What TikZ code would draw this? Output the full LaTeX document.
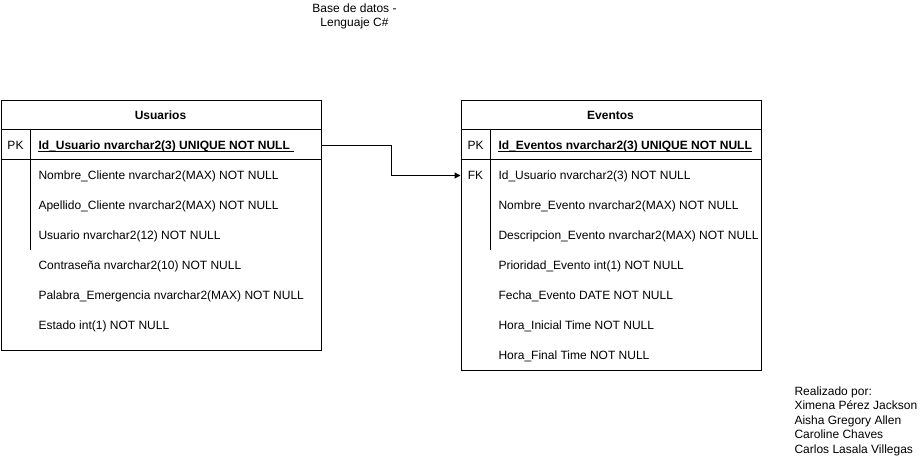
\documentclass[tikz,border=0pt]{standalone}
\usepackage{fontspec}
\setmainfont{Liberation Sans}
\usetikzlibrary{arrows.meta}
\begin{document}
\begin{tikzpicture}[x=1pt,y=-1pt,line width=1pt,
  font=\fontsize{12}{14}\selectfont,
  tablebox/.style={draw,rectangle,inner sep=0pt,anchor=north west,minimum width=#1},
  rowbox/.style={rectangle,inner sep=0pt,anchor=north west,minimum width=#1,minimum height=30pt},
  hdr/.style={inner sep=0pt,anchor=base,font=\fontsize{12}{14}\selectfont\bfseries},
  keylbl/.style={inner sep=0pt,anchor=base},
  fld/.style={inner sep=0pt,anchor=base west},
  pkfld/.style={inner sep=0pt,anchor=base west,font=\fontsize{12}{14}\selectfont\bfseries},
  note/.style={inner sep=0pt,anchor=base,align=center,font=\fontsize{12}{14}\selectfont},
  fk/.style={-{Triangle[length=6pt,width=6pt]}}]
\useasboundingbox (0,0) rectangle (921,470);

% title
\node[note] (title) at (354.5,26.3) {Base de datos -\\Lenguaje C\#};

% Usuarios table
\node[tablebox=320pt,minimum height=250pt] (usuarios) at (0.5,100) {};
\draw (0.5,130) -- (320.5,130);
\draw (0.5,160) -- (320.5,160);
\draw (30.5,130) -- (30.5,250);
\node[rowbox=320pt] (upk) at (0.5,130) {};
\node[hdr] (uh) at (160.5,119.3) {Usuarios};
\node[keylbl] (upkl) at (15.5,149.3) {PK};
\node[pkfld] (u0) at (38,149.3) {Id\_Usuario nvarchar2(3) UNIQUE NOT NULL};
\draw[line width=0.9pt] ([yshift=-1.8pt]u0.base west) -- ([yshift=-1.8pt,xshift=4pt]u0.base east);
\node[fld] (u1) at (38,179.3) {Nombre\_Cliente nvarchar2(MAX) NOT NULL};
\node[fld] (u2) at (38,209.3) {Apellido\_Cliente nvarchar2(MAX) NOT NULL};
\node[fld] (u3) at (38,239.3) {Usuario nvarchar2(12) NOT NULL};
\node[fld] (u4) at (38,269.3) {Contraseña nvarchar2(10) NOT NULL};
\node[fld] (u5) at (38,299.3) {Palabra\_Emergencia nvarchar2(MAX) NOT NULL};
\node[fld] (u6) at (38,329.3) {Estado int(1) NOT NULL};

% Eventos table
\node[tablebox=300pt,minimum height=270pt] (eventos) at (460.5,100) {};
\draw (460.5,130) -- (760.5,130);
\draw (460.5,160) -- (760.5,160);
\draw (490.5,130) -- (490.5,250);
\node[rowbox=300pt] (efk) at (460.5,160) {};
\node[hdr] (eh) at (610.5,119.3) {Eventos};
\node[keylbl] (epkl) at (475.5,149.3) {PK};
\node[keylbl] (efkl) at (475.5,179.3) {FK};
\node[pkfld] (e0) at (498,149.3) {Id\_Eventos nvarchar2(3) UNIQUE NOT NULL};
\draw[line width=0.9pt] ([yshift=-1.8pt]e0.base west) -- ([yshift=-1.8pt]e0.base east);
\node[fld] (e1) at (498,179.3) {Id\_Usuario nvarchar2(3) NOT NULL};
\node[fld] (e2) at (498,209.3) {Nombre\_Evento nvarchar2(MAX) NOT NULL};
\node[fld] (e3) at (498,239.3) {Descripcion\_Evento nvarchar2(MAX) NOT NULL};
\node[fld] (e4) at (498,269.3) {Prioridad\_Evento int(1) NOT NULL};
\node[fld] (e5) at (498,299.3) {Fecha\_Evento DATE NOT NULL};
\node[fld] (e6) at (498,329.3) {Hora\_Inicial Time NOT NULL};
\node[fld] (e7) at (498,359.3) {Hora\_Final Time NOT NULL};

% connector
\draw[fk] (upk.east) -- ++(70,0) |- (efk.west);

% authors
\node[inner sep=0pt,anchor=base west,align=left,font=\fontsize{12}{14.5}\selectfont] (authors) at (794,453.3)
  {Realizado por:\\Ximena Pérez Jackson\\Aisha Gregory Allen\\Caroline Chaves\\Carlos Lasala Villegas};
\end{tikzpicture}
\end{document}
